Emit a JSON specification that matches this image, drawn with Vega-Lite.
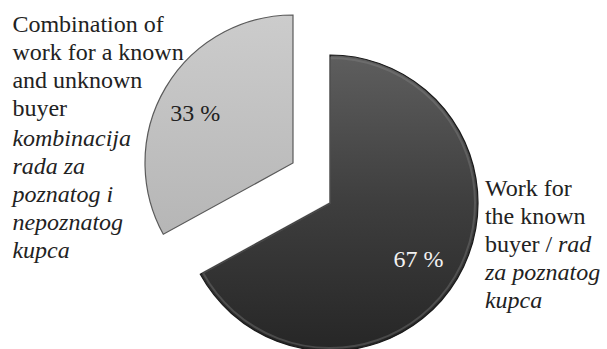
{
  "$schema": "https://vega.github.io/schema/vega-lite/v6.json",
  "autosize": {"type": "none"},
  "width": 554,
  "height": 292,
  "padding": {"left": 53, "top": 57, "right": 0, "bottom": 0},
  "background": "white",
  "config": {"view": {"stroke": null}},
  "data": {"values": [
    {"category": "known", "value": 67, "label": "67 %"},
    {"category": "combination", "value": 33, "label": "33 %"}
  ]},
  "encoding": {
    "theta": {"field": "value", "type": "quantitative", "stack": true},
    "order": {"field": "value", "sort": "descending"}
  },
  "layer": [
    {
      "mark": {"type": "arc", "outerRadius": 148, "stroke": "#1a1a1a", "strokeWidth": 1.2,
        "fill": {"gradient": "linear", "x1": 0, "y1": 0, "x2": 0, "y2": 1,
          "stops": [{"offset": 0, "color": "#5e5e5e"}, {"offset": 0.5, "color": "#3e3e3e"}, {"offset": 1, "color": "#262626"}]}},
      "encoding": {"opacity": {"condition": {"test": "datum.category === 'known'", "value": 1}, "value": 0}}
    },
    {
      "mark": {"type": "arc", "outerRadius": 145, "fill": null, "filled": false, "stroke": "#8a8a8a", "strokeWidth": 2, "strokeOpacity": 0.35},
      "encoding": {"opacity": {"condition": {"test": "datum.category === 'known'", "value": 1}, "value": 0}}
    },
    {
      "mark": {"type": "arc", "outerRadius": 148, "xOffset": -37, "yOffset": -40, "stroke": "#5a5a5a", "strokeWidth": 1.2,
        "fill": {"gradient": "linear", "x1": 0, "y1": 0, "x2": 0, "y2": 1,
          "stops": [{"offset": 0, "color": "#cccccc"}, {"offset": 1, "color": "#b6b6b6"}]}},
      "encoding": {"opacity": {"condition": {"test": "datum.category === 'combination'", "value": 1}, "value": 0}}
    },
    {
      "mark": {"type": "text", "radius": 105, "dx": -2, "dy": 4, "font": "Liberation Serif", "fontSize": 24, "fill": "#f2f2f2", "align": "center", "baseline": "middle"},
      "encoding": {
        "text": {"field": "label"},
        "opacity": {"condition": {"test": "datum.category === 'known'", "value": 1}, "value": 0}
      }
    },
    {
      "mark": {"type": "text", "radius": 110, "dx": -40, "dy": -33, "font": "Liberation Serif", "fontSize": 24, "fill": "#222222", "align": "center", "baseline": "middle"},
      "encoding": {
        "text": {"field": "label"},
        "opacity": {"condition": {"test": "datum.category === 'combination'", "value": 1}, "value": 0}
      }
    },
    {
      "mark": {"type": "text", "radius": 369, "dx": 0, "dy": 17, "font": "Liberation Serif", "fontSize": 24, "lineHeight": 28, "fill": "#222222", "align": "left", "baseline": "alphabetic"},
      "encoding": {
        "text": {"value": ["Combination of", "work for a known", "and unknown", "buyer"]},
        "opacity": {"condition": {"test": "datum.category === 'combination'", "value": 1}, "value": 0}
      }
    },
    {
      "mark": {"type": "text", "radius": 369, "dx": 0, "dy": 131, "font": "Liberation Serif", "fontSize": 24, "fontStyle": "italic", "lineHeight": 28, "fill": "#222222", "align": "left", "baseline": "alphabetic"},
      "encoding": {
        "text": {"value": ["kombinacija", "rada za", "poznatog i", "nepoznatog", "kupca"]},
        "opacity": {"condition": {"test": "datum.category === 'combination'", "value": 1}, "value": 0}
      }
    },
    {
      "mark": {"type": "text", "radius": 180, "dx": 0, "dy": -99, "font": "Liberation Serif", "fontSize": 24, "lineHeight": 28, "fill": "#222222", "align": "left", "baseline": "alphabetic"},
      "encoding": {
        "text": {"value": ["Work for", "the known", "buyer /"]},
        "opacity": {"condition": {"test": "datum.category === 'known'", "value": 1}, "value": 0}
      }
    },
    {
      "mark": {"type": "text", "radius": 180, "dx": 73, "dy": -43, "font": "Liberation Serif", "fontSize": 24, "fontStyle": "italic", "fill": "#222222", "align": "left", "baseline": "alphabetic"},
      "encoding": {
        "text": {"value": "rad"},
        "opacity": {"condition": {"test": "datum.category === 'known'", "value": 1}, "value": 0}
      }
    },
    {
      "mark": {"type": "text", "radius": 180, "dx": 0, "dy": -15, "font": "Liberation Serif", "fontSize": 24, "fontStyle": "italic", "lineHeight": 28, "fill": "#222222", "align": "left", "baseline": "alphabetic"},
      "encoding": {
        "text": {"value": ["za poznatog", "kupca"]},
        "opacity": {"condition": {"test": "datum.category === 'known'", "value": 1}, "value": 0}
      }
    }
  ]
}
